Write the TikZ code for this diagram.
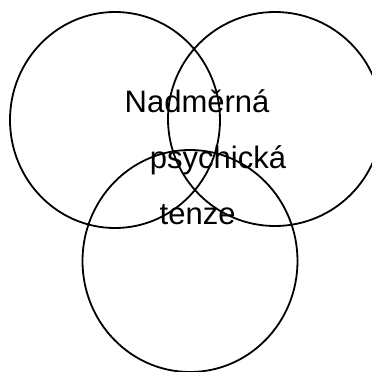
\documentclass[tikz,border=0pt]{standalone}
\usepackage{fontspec}
\setmainfont{Liberation Sans}
\tikzset{
  ring/.style={draw=black, line width=1.8pt},
  label/.style={inner sep=0pt, anchor=base west, font=\fontsize{31}{36}\selectfont}
}
\begin{document}
\begin{tikzpicture}[x=1pt,y=-1pt]
\useasboundingbox (0,0) rectangle (372,372);
\clip (0,0) rectangle (372,372);
\draw[ring] (115,120) ellipse [x radius=105, y radius=108];
\draw[ring] (275,119) ellipse [x radius=107, y radius=107];
\draw[ring] (190,261) ellipse [x radius=107.5, y radius=111];
\node[label] (t1) at (124.5,112.5) {Nadměrná};
\node[label] (t2) at (149.7,168.5) {psychická};
\node[label] (t3) at (159.5,224) {tenze};
\end{tikzpicture}
\end{document}
